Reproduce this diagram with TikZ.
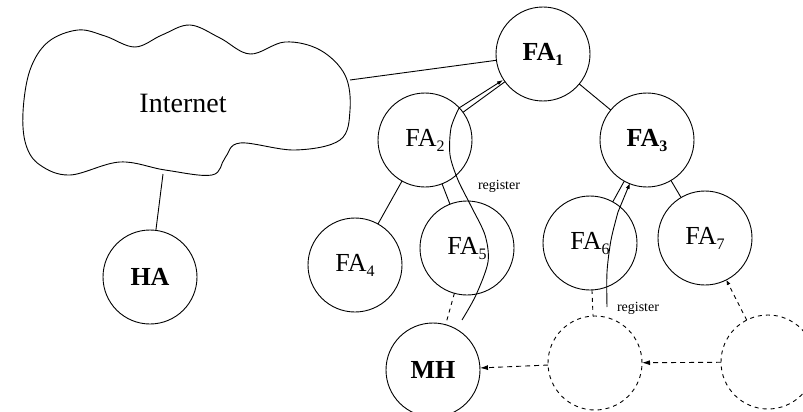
\documentclass[tikz,border=0pt]{standalone}
\usepackage{fontspec}
\setmainfont{Liberation Serif}
\usetikzlibrary{arrows.meta}
\newcommand\fasub[1]{\raisebox{-5pt}{\fontsize{16}{16}\selectfont #1}}
\tikzset{
  fa/.style={draw, circle, line width=0.9pt, minimum size=94pt, inner sep=0pt, outer sep=0pt,
             font=\fontsize{26}{30}\selectfont},
  ghost/.style={fa, dashed, dash pattern=on 4pt off 4pt},
  link/.style={line width=0.9pt},
  radio/.style={line width=0.9pt, dash pattern=on 4pt off 4pt},
  move/.style={line width=0.9pt, dash pattern=on 5pt off 4pt, -{Latex[length=8pt,width=5pt]}},
  reg/.style={line width=0.9pt, -{Latex[length=6pt,width=4pt]}},
  regtext/.style={font=\fontsize{14}{15}\selectfont, inner sep=0pt}
}
\begin{document}
\begin{tikzpicture}[x=1pt,y=-1pt]
\useasboundingbox (0,0) rectangle (803,412);
% cloud
\draw[line width=0.9pt] plot[smooth cycle, tension=0.6] coordinates {
  (23,112) (30,70) (48,42) (78,30) (105,36) (135,47) (162,35) (190,25) (220,38)
  (250,54) (285,42) (320,50) (345,75) (350,110) (340,140) (295,150) (240,143)
  (225,158) (212,175) (165,170) (120,162) (70,175) (40,165) (26,145)};
\node[font=\fontsize{28}{32}\selectfont] (inet) at (183,103) {Internet};
\coordinate (inetR) at (350,80);
\coordinate (inetB) at (163,174);

% nodes
\node[fa] (fa1) at (543,54) {\textbf{FA}\fasub{\textbf{1}}};
\node[fa] (fa2) at (425,140) {FA\fasub{2}};
\node[fa] (fa3) at (647,140) {\textbf{FA}\fasub{\textbf{3}}};
\node[fa] (fa4) at (355,265) {FA\fasub{4}};
\node[fa] (fa5) at (467,248) {FA\fasub{5}};
\node[fa] (fa6) at (590,243) {FA\fasub{6}};
\node[fa] (fa7) at (705,238) {FA\fasub{7}};
\node[fa] (ha) at (150,277) {\textbf{HA}};
\node[fa] (mh) at (433,370) {\textbf{MH}};
\node[ghost] (g1) at (595,363) {};
\node[ghost] (g2) at (768,362) {};

% wired links
\draw[link] (inetR) -- (fa1);
\draw[link] (inetB) -- (ha);
\draw[link] (fa1) -- (fa2);
\draw[link] (fa1) -- (fa3);
\draw[link] (fa2) -- (fa4);
\draw[link] (fa2) -- (fa5);
\draw[link] (fa3) -- (fa6);
\draw[link] (fa3) -- (fa7);

% radio links
\draw[radio] (fa5) -- (mh);
\draw[radio] (fa6) -- (g1);
\draw[radio, -{Latex[length=5pt,width=4pt]}] (g2) -- (fa7);

% movement
\draw[move] (g2) -- (g1);
\draw[move] (g1) -- (mh);

% registration paths
\coordinate (r1s) at (462,320);
\coordinate (r1e) at (503,80);
\draw[reg] plot[smooth] coordinates {(r1s) (476,295) (488,262) (485,235) (471,206)
  (458,180) (450,155) (451,128) (459,108)} -- (r1e);
\node[regtext] (reg1) at (499,186) {register};

\coordinate (r2s) at (607,307);
\coordinate (r2e) at (630,183);
\draw[reg] plot[smooth] coordinates {(r2s) (607,272) (611,240) (618,212)} -- (r2e);
\node[regtext] (reg2) at (638,308) {register};
\end{tikzpicture}
\end{document}
